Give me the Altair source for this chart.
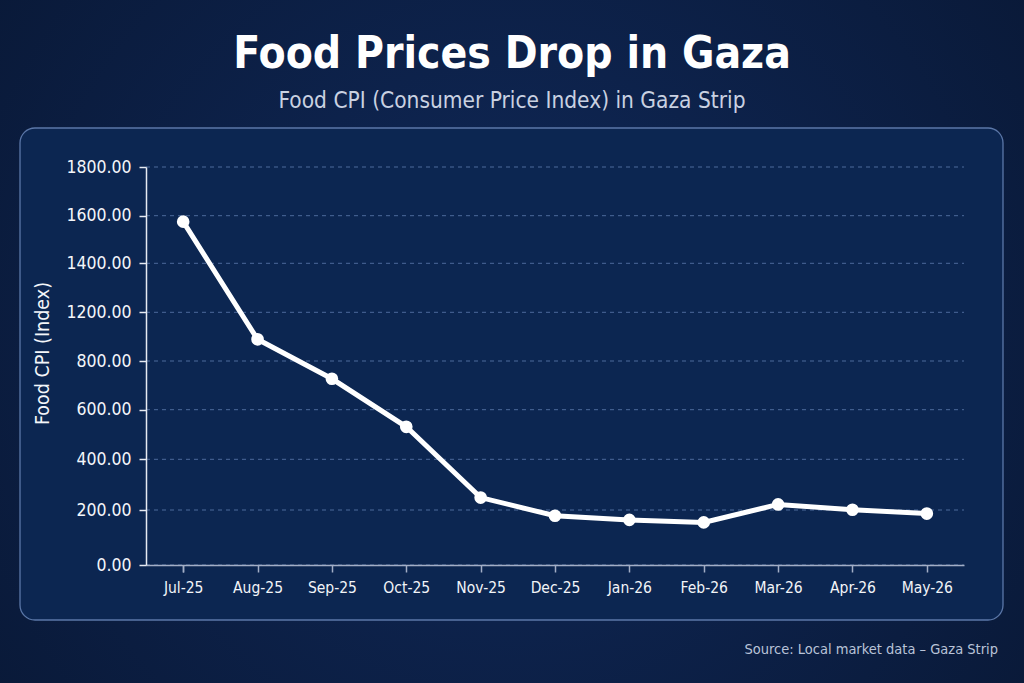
import altair as alt
import pandas as pd

# ---- data ----
months = ["Jul-25", "Aug-25", "Sep-25", "Oct-25", "Nov-25", "Dec-25",
          "Jan-26", "Feb-26", "Mar-26", "Apr-26", "May-26"]
cpi = [1575, 978, 727, 531, 249, 179, 164, 155, 222, 201, 187]
y_ticks = [0, 200, 400, 600, 800, 1200, 1400, 1600, 1800]

title_text = "Food Prices Drop in Gaza"
subtitle_text = "Food CPI (Consumer Price Index) in Gaza Strip"
source_text = "Source: Local market data \u2013 Gaza Strip"
y_title = "Food CPI (Index)"

df = pd.DataFrame({"month": months, "cpi": cpi})
grid_df = pd.DataFrame({"cpi": y_ticks})
one = pd.DataFrame({"k": [0]})

W, H = 818, 398
LEFT, TOP = 146, 167
FONT = "DejaVu Sans Condensed, Roboto, sans-serif"

# the reference's value axis is drawn with evenly spaced labels (no 1000)
y_range = [398, 343, 292.3, 242.7, 194, 145.3, 96.3, 48.7, 0]
yscale = alt.Scale(domain=y_ticks, range=y_range)

xenc = alt.X("month:N", sort=months,
             scale=alt.Scale(paddingInner=0, paddingOuter=0),
             axis=alt.Axis(title=None, labelAngle=0, labelFontSize=15.5,
                           labelColor="#f2f4f8", labelFont=FONT,
                           labelPadding=8,
                           domainColor="#a3aec6", domainWidth=1.5,
                           tickColor="#a3aec6", tickWidth=1.5, tickSize=7,
                           bandPosition=1, tickExtra=True, grid=False,
                           zindex=1))
yenc = alt.Y("cpi:Q", scale=yscale,
             axis=alt.Axis(title=y_title, values=y_ticks, format=".2f",
                           labelFontSize=17.5, labelColor="#f4f6fa",
                           labelFont=FONT, labelPadding=8,
                           titleFont=FONT, titleFontSize=19.5,
                           titleFontWeight="normal", titleColor="#f4f6fa",
                           titleX=-104, titleY=186, titleAngle=270,
                           titleAlign="center", titleBaseline="middle",
                           domainColor="#e6eaf2", domainWidth=1.5,
                           tickColor="#e6eaf2", tickWidth=1.5, tickSize=7,
                           grid=False, zindex=1))

bg = alt.Chart(one).mark_rect(
    color=alt.Gradient(gradient="radial",
                       stops=[alt.GradientStop(color="#10295a", offset=0),
                              alt.GradientStop(color="#081631", offset=1)],
                       x1=0.5, y1=0.5, x2=0.5, y2=0.5, r1=0, r2=0.75)
).encode(x=alt.value(-LEFT), x2=alt.value(1024 - LEFT),
         y=alt.value(-TOP), y2=alt.value(683 - TOP))

panel = alt.Chart(one).mark_rect(
    fill="#0c2651", stroke="#5b77a8", strokeWidth=1.3, cornerRadius=15
).encode(x=alt.value(20 - LEFT), x2=alt.value(1003 - LEFT),
         y=alt.value(128 - TOP), y2=alt.value(620 - TOP))

grid = alt.Chart(grid_df).mark_rule(
    color="#4d6a9c", strokeWidth=1, strokeDash=[4, 4]
).encode(y=yenc, x=alt.value(0), x2=alt.value(W))

title = alt.Chart(one).mark_text(
    text=title_text, font=FONT, fontSize=44, fontWeight="bold",
    color="#ffffff", align="center", baseline="alphabetic"
).encode(x=alt.value(512 - LEFT), y=alt.value(68 - TOP))

subtitle = alt.Chart(one).mark_text(
    text=subtitle_text, font=FONT, fontSize=22.5, color="#c9d1e1",
    align="center", baseline="alphabetic"
).encode(x=alt.value(512 - LEFT), y=alt.value(108 - TOP))

source = alt.Chart(one).mark_text(
    text=source_text, font=FONT, fontSize=14.5, color="#b9c3d8",
    align="right", baseline="alphabetic"
).encode(x=alt.value(998 - LEFT), y=alt.value(654 - TOP))

base = alt.Chart(df).encode(x=xenc, y=yenc)
line = base.mark_line(color="#ffffff", strokeWidth=5)
pts = base.mark_point(filled=True, color="#ffffff", size=160, opacity=1)

chart = alt.layer(bg, panel, grid, title, subtitle, source, line, pts).properties(
    width=W, height=H,
    padding={"left": LEFT, "top": TOP, "right": 1024 - LEFT - W,
             "bottom": 683 - TOP - H},
    autosize=alt.AutoSizeParams(type="none"),
    background="#0a1836",
).configure_view(stroke=None)

chart.save("out.html", embed_options={"renderer": "svg", "actions": False})
